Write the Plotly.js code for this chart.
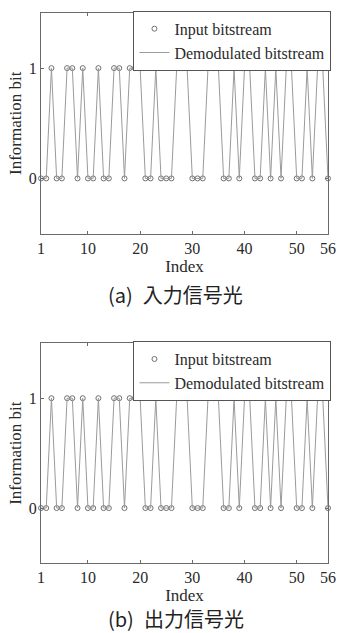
<!DOCTYPE html>
<html>
<head>
<meta charset="utf-8">
<script src="https://cdn.plot.ly/plotly-3.0.1.min.js"></script>
<style>html,body{margin:0;padding:0;background:#fff;}#chart{width:340px;height:633px;}</style>
</head>
<body>
<div id="chart"></div>
<script>
// Bit index 1..56
const indexValues = Array.from({length: 56}, (_, i) => i + 1);
// Input bitstream (a)
const inputBitsA = [0,0,1,0,0,1,1,0,1,0,0,1,0,0,1,1,0,1,1,1,0,0,1,0,0,0,1,1,1,0,0,0,1,1,1,0,0,1,0,1,1,0,0,1,0,1,0,1,1,0,0,1,0,1,1,0];
const demodBitsA = [0,0,1,0,0,1,1,0,1,0,0,1,0,0,1,1,0,1,1,1,0,0,1,0,0,0,1,1,1,0,0,0,1,1,1,0,0,1,0,1,1,0,0,1,0,1,0,1,1,0,0,1,0,1,1,0];
// Output (b)
const inputBitsB = [0,0,1,0,0,1,1,0,1,0,0,1,0,0,1,1,0,1,1,1,0,0,1,0,0,0,1,1,1,0,0,0,1,1,1,0,0,1,0,1,1,0,0,1,0,1,0,1,1,0,0,1,0,1,1,0];
const demodBitsB = [0,0,1,0,0,1,1,0,1,0,0,1,0,0,1,1,0,1,1,1,0,0,1,0,0,0,1,1,1,0,0,0,1,1,1,0,0,1,0,1,1,0,0,1,0,1,0,1,1,0,0,1,0,1,1,0];
const xTicks = [1,10,20,30,40,50,56];
const yTicks = [0,1];
const seriesNames = ['Input bitstream', 'Demodulated bitstream'];
const captions = ['(a)\u2002入力信号光', '(b)\u2002出力信号光'];
const axisTitles = {x: 'Index', y: 'Information bit'};

const serif = 'Liberation Serif, Times New Roman, serif';
const textColor = '#2a2a2a';
const axisColor = '#6a6a6a';

function lineTrace(y, xa, ya, leg) {
  return {x: indexValues, y: y, xaxis: xa, yaxis: ya, legend: leg, name: seriesNames[1],
    mode: 'lines', line: {color: '#9a9a9a', width: 1}, cliponaxis: false, hoverinfo: 'skip'};
}
function markTrace(y, xa, ya, leg) {
  return {x: indexValues, y: y, xaxis: xa, yaxis: ya, legend: leg, name: seriesNames[0],
    mode: 'markers', marker: {symbol: 'circle-open', size: 5, color: '#707070', line: {width: 1, color: '#707070'}},
    cliponaxis: false, hoverinfo: 'skip'};
}

const data = [
  markTrace(inputBitsA, 'x', 'y', 'legend'),
  lineTrace(demodBitsA, 'x', 'y', 'legend'),
  markTrace(inputBitsB, 'x2', 'y2', 'legend2'),
  lineTrace(demodBitsB, 'x2', 'y2', 'legend2')
];

function xAxis(anchor) {
  return {anchor: anchor, domain: [0, 1], range: [1, 56], tickvals: xTicks, ticktext: xTicks.map(String),
    ticks: 'inside', ticklen: 3, tickcolor: axisColor, showline: true, linecolor: axisColor, linewidth: 1,
    mirror: 'ticks', showgrid: false, zeroline: false,
    tickfont: {family: serif, size: 16, color: textColor},
    title: {text: axisTitles.x, font: {family: serif, size: 17, color: textColor}, standoff: 3}};
}
function yAxis(anchor, domain) {
  return {anchor: anchor, domain: domain, range: [-0.5, 1.5], tickvals: yTicks, ticktext: yTicks.map(String),
    ticks: 'inside', ticklen: 3, tickcolor: axisColor, showline: true, linecolor: axisColor, linewidth: 1,
    mirror: 'ticks', showgrid: false, zeroline: false,
    tickfont: {family: serif, size: 16, color: textColor},
    title: {text: axisTitles.y, font: {family: serif, size: 17, color: textColor}, standoff: 2}};
}
function legendBox(yTop) {
  return {x: 1.012, xanchor: 'right', y: yTop, yanchor: 'top', bgcolor: '#ffffff',
    bordercolor: '#555555', borderwidth: 1, font: {family: serif, size: 16, color: textColor},
    tracegroupgap: 0, itemwidth: 30};
}

const captionFont = {family: 'Noto Sans CJK JP, Noto Sans, sans-serif', size: 20, color: '#222'};

const layout = {
  width: 340, height: 633,
  margin: {l: 41, r: 8.3, t: 13, b: 70},
  paper_bgcolor: '#ffffff', plot_bgcolor: '#ffffff',
  showlegend: true,
  xaxis: xAxis('y'),
  yaxis: yAxis('x', [0.599, 1]),
  xaxis2: xAxis('y2'),
  yaxis2: yAxis('x2', [0, 0.3995]),
  legend: legendBox(1.004),
  legend2: legendBox(0.4035),
  annotations: [
    {text: captions[0], xref: 'paper', yref: 'paper', x: 0.469, y: (563 - 294) / 550, xanchor: 'center', yanchor: 'middle',
      showarrow: false, font: captionFont},
    {text: captions[1], xref: 'paper', yref: 'paper', x: 0.469, y: (563 - 618) / 550, xanchor: 'center', yanchor: 'middle',
      showarrow: false, font: captionFont}
  ]
};

Plotly.newPlot('chart', data, layout, {staticPlot: true, displayModeBar: false});
</script>
</body>
</html>
